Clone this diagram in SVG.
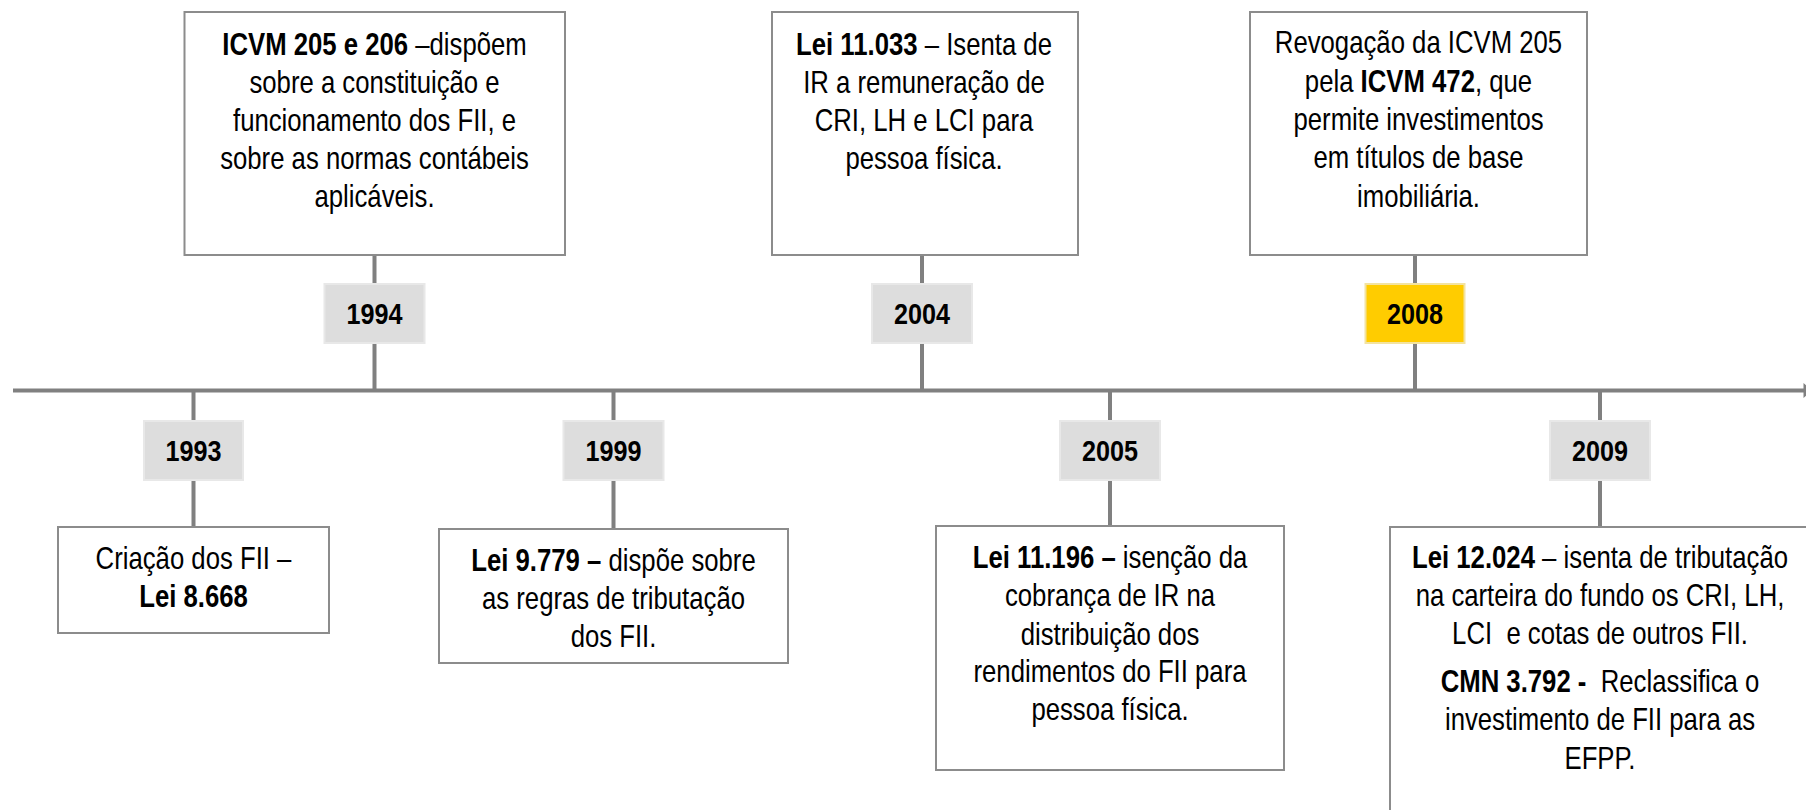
<svg xmlns="http://www.w3.org/2000/svg" width="1806" height="810" viewBox="0 0 1806 810">
<style>
text{font-family:"Liberation Sans","Arial",sans-serif;fill:#000;text-anchor:middle;white-space:pre}
.t{font-size:31px}
.b{font-weight:bold}
.yr{font-size:30px;font-weight:bold}
.box{fill:#fff;stroke:#8c8c8c;stroke-width:2}
.ybox{fill:#dddddd;stroke:#e8e8e8;stroke-width:2}
.ybox8{fill:#ffcc00;stroke:#f3e3a0;stroke-width:2}
.c{stroke:#808080;stroke-width:4;fill:none}
</style>
<rect width="1806" height="810" fill="#fff"/>
<g id="connectors">
<line class="c" x1="13" y1="390.5" x2="1806" y2="390.5"/>
<polygon points="1803.5,383 1812,390.5 1803.5,398" fill="#808080"/>
<path class="c" d="M193.5 390.5V421M193.5 480V527"/>
<path class="c" d="M374.5 255V284M374.5 343V390.5"/>
<path class="c" d="M613.5 390.5V421M613.5 480V529"/>
<path class="c" d="M922 255V284M922 343V390.5"/>
<path class="c" d="M1110 390.5V421M1110 480V526"/>
<path class="c" d="M1415 255V284M1415 343V390.5"/>
<path class="c" d="M1600 390.5V421M1600 480V527"/>
</g>
<g id="n1993">
<rect class="ybox" x="144" y="421" width="99" height="59"/>
<text class="yr" transform="matrix(0.84 0 0 1 193.5 0)" x="0" y="461.5">1993</text>
<rect class="box" x="58" y="527" width="271" height="106"/>
<text class="t" transform="matrix(0.83 0 0 1 193.5 0)" x="0" y="569">Criação dos FII –</text>
<text class="t b" transform="matrix(0.83 0 0 1 193.5 0)" x="0" y="607">Lei 8.668</text>
</g>
<g id="n1994">
<rect class="box" x="184.5" y="12" width="380.5" height="243"/>
<text class="t" transform="matrix(0.83 0 0 1 374.5 0)" x="0" y="55"><tspan class="b">ICVM 205 e 206</tspan> –dispõem</text>
<text class="t" transform="matrix(0.83 0 0 1 374.5 0)" x="0" y="93">sobre a constituição e</text>
<text class="t" transform="matrix(0.83 0 0 1 374.5 0)" x="0" y="131">funcionamento dos FII, e</text>
<text class="t" transform="matrix(0.83 0 0 1 374.5 0)" x="0" y="169">sobre as normas contábeis</text>
<text class="t" transform="matrix(0.83 0 0 1 374.5 0)" x="0" y="207">aplicáveis.</text>
<rect class="ybox" x="324.5" y="284" width="100" height="59"/>
<text class="yr" transform="matrix(0.84 0 0 1 374.5 0)" x="0" y="324.5">1994</text>
</g>
<g id="n1999">
<rect class="ybox" x="563.5" y="421" width="100" height="59"/>
<text class="yr" transform="matrix(0.84 0 0 1 613.5 0)" x="0" y="461.5">1999</text>
<rect class="box" x="439" y="529" width="349" height="134"/>
<text class="t" transform="matrix(0.83 0 0 1 613.5 0)" x="0" y="571"><tspan class="b">Lei 9.779 –</tspan> dispõe sobre</text>
<text class="t" transform="matrix(0.83 0 0 1 613.5 0)" x="0" y="609">as regras de tributação</text>
<text class="t" transform="matrix(0.83 0 0 1 613.5 0)" x="0" y="647">dos FII.</text>
</g>
<g id="n2004">
<rect class="box" x="772" y="12" width="306" height="243"/>
<text class="t" transform="matrix(0.83 0 0 1 924 0)" x="0" y="55"><tspan class="b">Lei 11.033</tspan> – Isenta de</text>
<text class="t" transform="matrix(0.83 0 0 1 924 0)" x="0" y="93">IR a remuneração de</text>
<text class="t" transform="matrix(0.83 0 0 1 924 0)" x="0" y="131">CRI, LH e LCI para</text>
<text class="t" transform="matrix(0.83 0 0 1 924 0)" x="0" y="169">pessoa física.</text>
<rect class="ybox" x="872" y="284" width="100" height="59"/>
<text class="yr" transform="matrix(0.84 0 0 1 922 0)" x="0" y="324.5">2004</text>
</g>
<g id="n2005">
<rect class="ybox" x="1060" y="421" width="100" height="59"/>
<text class="yr" transform="matrix(0.84 0 0 1 1110 0)" x="0" y="461.5">2005</text>
<rect class="box" x="936" y="526" width="348" height="244"/>
<text class="t" transform="matrix(0.83 0 0 1 1110 0)" x="0" y="568"><tspan class="b">Lei 11.196 –</tspan> isenção da</text>
<text class="t" transform="matrix(0.83 0 0 1 1110 0)" x="0" y="606.5">cobrança de IR na</text>
<text class="t" transform="matrix(0.83 0 0 1 1110 0)" x="0" y="645">distribuição dos</text>
<text class="t" transform="matrix(0.83 0 0 1 1110 0)" x="0" y="682">rendimentos do FII para</text>
<text class="t" transform="matrix(0.83 0 0 1 1110 0)" x="0" y="720">pessoa física.</text>
</g>
<g id="n2008">
<rect class="box" x="1250" y="12" width="337" height="243"/>
<text class="t" transform="matrix(0.83 0 0 1 1418.5 0)" x="0" y="53">Revogação da ICVM 205</text>
<text class="t" transform="matrix(0.83 0 0 1 1418.5 0)" x="0" y="92">pela <tspan class="b">ICVM 472</tspan>, que</text>
<text class="t" transform="matrix(0.83 0 0 1 1418.5 0)" x="0" y="130">permite investimentos</text>
<text class="t" transform="matrix(0.83 0 0 1 1418.5 0)" x="0" y="168">em títulos de base</text>
<text class="t" transform="matrix(0.83 0 0 1 1418.5 0)" x="0" y="207">imobiliária.</text>
<rect class="ybox8" x="1365.5" y="284" width="99" height="59"/>
<text class="yr" transform="matrix(0.84 0 0 1 1415 0)" x="0" y="324.5">2008</text>
</g>
<g id="n2009">
<rect class="ybox" x="1550" y="421" width="100" height="59"/>
<text class="yr" transform="matrix(0.84 0 0 1 1600 0)" x="0" y="461.5">2009</text>
<rect class="box" x="1390" y="527" width="420" height="300"/>
<text class="t" transform="matrix(0.83 0 0 1 1600 0)" x="0" y="568"><tspan class="b">Lei 12.024</tspan> – isenta de tributação</text>
<text class="t" transform="matrix(0.83 0 0 1 1600 0)" x="0" y="606">na carteira do fundo os CRI, LH,</text>
<text class="t" transform="matrix(0.83 0 0 1 1600 0)" x="0" y="644">LCI  e cotas de outros FII.</text>
<text class="t" transform="matrix(0.83 0 0 1 1600 0)" x="0" y="692"><tspan class="b">CMN 3.792 -</tspan>  Reclassifica o</text>
<text class="t" transform="matrix(0.83 0 0 1 1600 0)" x="0" y="730.5">investimento de FII para as</text>
<text class="t" transform="matrix(0.83 0 0 1 1600 0)" x="0" y="769">EFPP.</text>
</g>
</svg>
